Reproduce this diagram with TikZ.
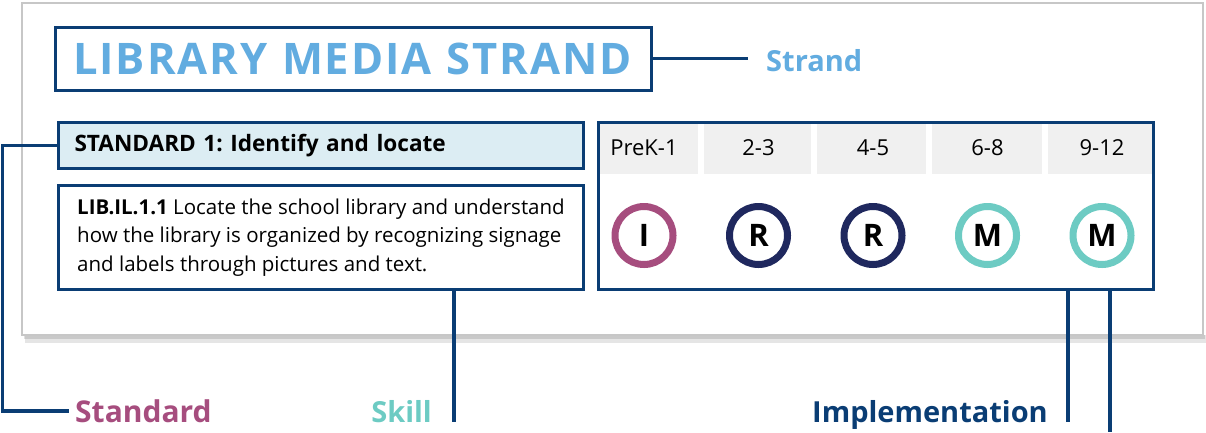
\documentclass[tikz,border=0pt]{standalone}
\usepackage{fontspec}
\setmainfont{Open Sans}
\newfontfamily\titlefont[LetterSpace=4.5]{Open Sans}
\definecolor{navy}{RGB}{10,61,116}
\definecolor{skyblue}{RGB}{98,172,224}
\definecolor{plum}{RGB}{166,77,126}
\definecolor{tealring}{RGB}{109,203,195}
\definecolor{ink}{RGB}{31,40,94}
\definecolor{stdfill}{RGB}{220,237,243}
\definecolor{cellfill}{RGB}{240,240,240}
\frenchspacing

\begin{document}
\begin{tikzpicture}[x=1pt,y=1pt,yscale=-1,xscale=1,
    box/.style={draw=navy,line width=3pt,inner sep=0pt},
    link/.style={draw=navy,line width=3.5pt},
    tag/.style={anchor=base west,inner sep=0pt,font=\bfseries\fontsize{29}{29}\selectfont},
    grade/.style={anchor=base,inner sep=0pt,font=\fontsize{22}{22}\selectfont},
    ring/.style={circle,line width=7pt,minimum size=58pt,inner sep=0pt,font=\bfseries\fontsize{31}{31}\selectfont}]
\useasboundingbox (0,0) rectangle (1206,432);
% panel and its shadow
\fill [black,opacity=0.10] (25,335) rectangle (1206,343);
\fill [black,opacity=0.12] (24,335) rectangle (1205,339);
\draw [draw=black!22,fill=white,line width=1.5pt] (22,3) rectangle (1203,335);
% strand
\draw (353,58.5) node [box,minimum width=596,minimum height=63,text width=560,align=left,text=skyblue,font=\titlefont\bfseries\fontsize{43.5}{43.5}\selectfont] (title) {\mbox{LIBRARY MEDIA STRAND}};
\draw (766,71) node [tag,text=skyblue] (strandlbl) {Strand};
\draw [link] (title.east) -- ([xshift=-18pt]strandlbl.west |- title.east);
% standard and skill
\draw (321,145.5) node [box,fill=stdfill,minimum width=525,minimum height=46,text width=493,align=left,font=\bfseries\fontsize{22.6}{22.6}\selectfont] (standard) {STANDARD 1: Identify and locate};
\draw (321,237.5) node [box,minimum width=525,minimum height=104,align=left,font=\fontsize{20.5}{28.5}\selectfont] (skill) {\textbf{LIB.IL.1.1} Locate the school library and understand\\how the library is organized by recognizing signage\\and labels through pictures and text.};
% grades
\foreach \a/\b in {600/698,704/811,817/926,932/1042,1048/1152}
    \fill [cellfill] (\a,124) rectangle (\b,174);
\draw (876,206) node [box,minimum width=555,minimum height=167] (grades) {};
\foreach \i/\cx/\g/\lt/\col in {1/644/PreK-1/I/plum,2/758.5/2-3/R/ink,3/873/4-5/R/ink,4/987.5/6-8/M/tealring,5/1102/9-12/M/tealring} {
    \draw (\cx,155) node [grade] (g\i) {\g};
    \draw (\cx,235.5) node [ring,draw=\col] (r\i) {\lt};
}
% labels below
\draw (75,422) node [tag,text=plum,font=\bfseries\fontsize{30}{30}\selectfont] (stdlbl) {Standard};
\draw (432,422) node [tag,anchor=base east,text=tealring] (skilllbl) {Skill};
\draw (1048,422) node [tag,anchor=base east,text=navy] (impllbl) {Implementation};
\coordinate (skillend) at (454,422);
\coordinate (implend) at (1068,422);
\coordinate (implend2) at (1110,432);
\draw [link] (standard.west) -- ++(-54.5,0) |- ([xshift=-6pt]stdlbl.west);
\draw [link] (skill.south -| skillend) -- (skillend);
\draw [link] (grades.south -| implend) -- (implend);
\draw [link] (grades.south -| implend2) -- (implend2);
\end{tikzpicture}
\end{document}
